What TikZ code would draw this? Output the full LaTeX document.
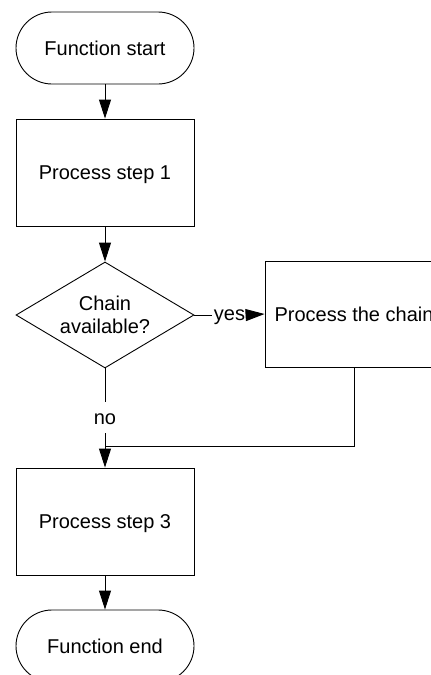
\documentclass[tikz,border=0pt]{standalone}
\usepackage{fontspec}
\setmainfont{Liberation Sans}
\usetikzlibrary{arrows.meta,shapes.geometric}
\begin{document}
\begin{tikzpicture}[x=1pt,y=-1pt,
  every node/.style={font=\fontsize{20}{23}\selectfont, text=black},
  line/.style={draw=black, line width=0.9pt},
  arr/.style={line, -{Triangle[length=19pt,width=12pt]}},
  term/.style={draw=black, line width=0.9pt, rectangle, rounded corners=36pt,
    minimum width=178pt, minimum height=72pt, inner sep=0pt},
  procbox/.style={draw=black, line width=0.9pt, rectangle,
    minimum width=178pt, minimum height=107pt, inner sep=0pt,
    text height=14.4pt, text depth=0pt},
  decision/.style={draw=black, line width=0.9pt, diamond, aspect=1.68,
    minimum width=178pt, minimum height=106pt, inner sep=0pt, align=center},
  lbl/.style={fill=white, inner xsep=1.5pt, text height=10.4pt, text depth=0pt}
]
\clip (0,0) rectangle (431,675);
\fill[white] (0,0) rectangle (431,675);

\node[term]     (start) at (105,48)    {Function start};
\node[procbox]  (p1)    at (105,172.5) {Process step 1};
\node[decision] (dia)   at (105,315)   {Chain\\available?};
\node[procbox, minimum height=106pt] (chain) at (354,314) {Process the chain};
\node[lbl]      (yes)   at (229.5,315) {yes};
\node[lbl, text height=13pt, inner ysep=9pt] (no) at (105,417.5) {no};
\coordinate     (j)     at (105,446);
\node[procbox]  (p3)    at (105,521.5) {Process step 3};
\node[term]     (end)   at (105,646)   {Function end};

\draw[arr]  (start) -- (p1);
\draw[arr]  (p1) -- (dia);
\draw[line] (dia.east) -- (yes.west);
\draw[arr]  (yes.east) -- (chain.west);
\draw[line] (dia.south) -- (no.north);
\draw[arr]  (no.south) -- (p3.north);
\draw[line] (chain.south) |- (j);
\draw[arr]  (p3) -- (end);
\end{tikzpicture}
\end{document}
